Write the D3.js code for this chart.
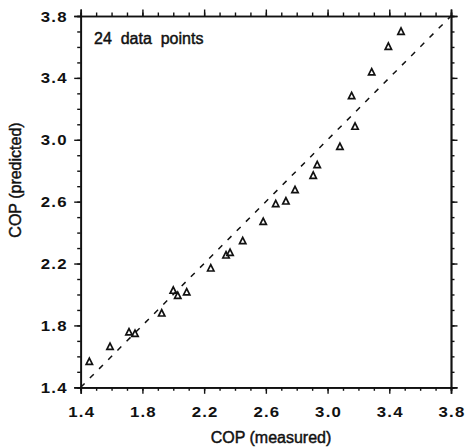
<!DOCTYPE html>
<html>
<head>
<meta charset="utf-8">
<script src="https://cdn.jsdelivr.net/npm/d3@7"></script>
<style>
  html, body { margin: 0; padding: 0; background: #fff; }
  svg { display: block; }
  text { font-family: "Liberation Sans", Arial, Helvetica, sans-serif; fill: #111; }
</style>
</head>
<body>
<svg id="chart" width="466" height="448"></svg>
<script>
// Measured vs predicted coefficient of performance
const measured = [1.456, 1.590, 1.713, 1.752, 1.925, 2.000, 2.029, 2.087,
                  2.243, 2.342, 2.368, 2.450, 2.583, 2.664, 2.730, 2.789,
                  2.907, 2.933, 3.080, 3.178, 3.156, 3.286, 3.394, 3.476];
const predicted = [1.565, 1.662, 1.756, 1.746, 1.878, 2.025, 1.992, 2.014,
                   2.169, 2.253, 2.270, 2.346, 2.470, 2.585, 2.602, 2.675,
                   2.768, 2.837, 2.955, 3.085, 3.283, 3.436, 3.602, 3.699];
const majorTicks = [1.4, 1.8, 2.2, 2.6, 3.0, 3.4, 3.8];
const minorTicks = d3.range(14, 39).map(v => v / 10);
const axisDomain = [1.4, 3.8];
const xTitle = "COP (measured)";
const yTitle = "COP (predicted)";
const note = "24  data  points";

const svg = d3.select("#chart");
const plot = { left: 80.7, right: 451, top: 16, bottom: 387.3 };

const x = d3.scaleLinear().domain(axisDomain).range([plot.left, plot.right]);
const y = d3.scaleLinear().domain(axisDomain).range([plot.bottom, plot.top]);

const ink = "#111";
const fmt = d3.format(".1f");
const widen = 1.2;   // tick numerals are set wide

// Frame: four axes with outward ticks; labels only on bottom and left
function frame(axisFn, scale, transform, labelled) {
  const minor = svg.append("g").attr("transform", transform)
    .call(axisFn(scale).tickValues(minorTicks).tickSize(3.5).tickFormat(""));
  const major = svg.append("g").attr("transform", transform)
    .call(axisFn(scale).tickValues(majorTicks).tickSize(6.5)
      .tickFormat(labelled ? fmt : ""));
  [minor, major].forEach(g => {
    g.select(".domain").attr("stroke", ink).attr("stroke-width", 1.7);
    g.selectAll(".tick line").attr("stroke", ink).attr("stroke-width", 1.4);
  });
  major.selectAll(".tick text")
    .style("font-size", "14px")
    .style("font-weight", "bold")
    .style("letter-spacing", "1px")
    .attr("fill", ink);
  return major;
}

const xAxisG = frame(d3.axisBottom, x, `translate(0,${plot.bottom})`, true);
frame(d3.axisTop, x, `translate(0,${plot.top})`, false);
const yAxisG = frame(d3.axisLeft, y, `translate(${plot.left},0)`, true);
frame(d3.axisRight, y, `translate(${plot.right},0)`, false);

xAxisG.selectAll(".tick text")
  .attr("x", 0.5 / widen).attr("y", 30).attr("dy", null)
  .attr("transform", `scale(${widen},1)`);
yAxisG.selectAll(".tick text")
  .attr("x", -13 / widen).attr("dy", "0.36em")
  .attr("transform", `scale(${widen},1)`);

// 1:1 reference line
svg.append("line")
  .attr("x1", x(axisDomain[0])).attr("y1", y(axisDomain[0]))
  .attr("x2", x(axisDomain[1])).attr("y2", y(axisDomain[1]))
  .attr("stroke", ink).attr("stroke-width", 1.5)
  .attr("stroke-dasharray", "5.5,7.5");

// Open triangle marker (base equal to height)
const triangle = {
  draw(ctx, size) {
    const h = Math.sqrt(size);
    ctx.moveTo(0, -h * 0.58);
    ctx.lineTo(h / 2, h * 0.42);
    ctx.lineTo(-h / 2, h * 0.42);
    ctx.closePath();
  }
};
const marker = d3.symbol().type(triangle).size(40);
svg.append("g").selectAll("path")
  .data(measured.map((m, i) => [m, predicted[i]]))
  .join("path")
  .attr("d", marker)
  .attr("transform", d => `translate(${x(d[0])},${y(d[1])})`)
  .attr("fill", "none")
  .attr("stroke", ink)
  .attr("stroke-width", 1.7)
  .attr("stroke-linejoin", "miter");

// Annotation and axis titles (regular face, slightly heavied)
function heavy(sel) {
  return sel.style("font-size", "16px")
    .attr("stroke", ink).attr("stroke-width", 0.45)
    .style("white-space", "pre");
}

heavy(svg.append("text").attr("x", 94).attr("y", 44)).text(note);

heavy(svg.append("text")
  .attr("x", 271).attr("y", 443)
  .attr("text-anchor", "middle")).text(xTitle);

heavy(svg.append("text")
  .attr("transform", "translate(21,180) rotate(-90)")
  .attr("text-anchor", "middle")).text(yTitle);
</script>
</body>
</html>
